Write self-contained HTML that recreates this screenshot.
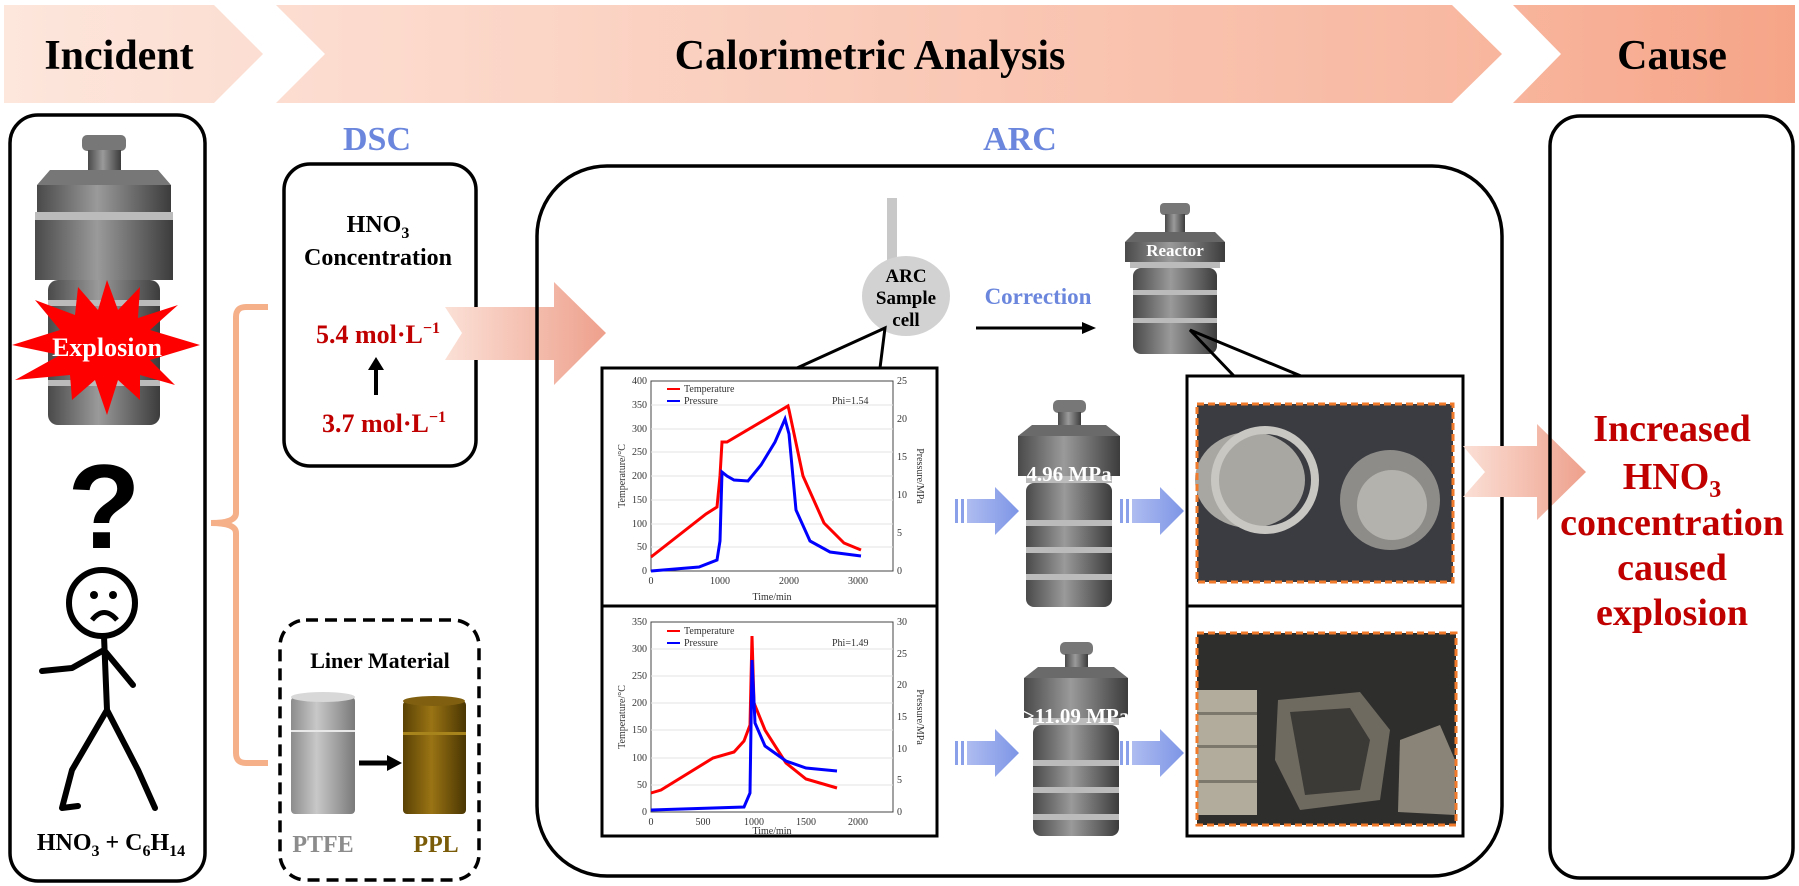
<!DOCTYPE html>
<html><head><meta charset="utf-8"><style>
html,body{margin:0;padding:0;background:#fff;}
svg{display:block;font-family:"Liberation Serif",serif;}
</style></head><body>
<svg width="1799" height="886" viewBox="0 0 1799 886" xmlns="http://www.w3.org/2000/svg">
<defs>
<linearGradient id="ban" gradientUnits="userSpaceOnUse" x1="0" x2="1799" y1="0" y2="0"><stop offset="0" stop-color="#fde6dc"/><stop offset="0.8" stop-color="#f8b9a2"/><stop offset="1" stop-color="#f6a487"/></linearGradient>
<linearGradient id="met" x1="0" x2="1" y1="0" y2="0"><stop offset="0" stop-color="#4a4a4a"/><stop offset="0.45" stop-color="#9a9a9a"/><stop offset="1" stop-color="#3c3c3c"/></linearGradient>
<linearGradient id="ptfe" x1="0" x2="1"><stop offset="0" stop-color="#8c8c8c"/><stop offset="0.4" stop-color="#c8c8c8"/><stop offset="1" stop-color="#7a7a7a"/></linearGradient>
<linearGradient id="ppl" x1="0" x2="1"><stop offset="0" stop-color="#5a4205"/><stop offset="0.45" stop-color="#9a7414"/><stop offset="1" stop-color="#4a3603"/></linearGradient>
<linearGradient id="pa" x1="0" x2="1"><stop offset="0" stop-color="#fbe0d6"/><stop offset="1" stop-color="#eea08c"/></linearGradient>
<linearGradient id="ba" x1="0" x2="1"><stop offset="0" stop-color="#aebcf0"/><stop offset="1" stop-color="#7d95e6"/></linearGradient>
<g id="blue"><rect x="0" y="-12" width="3" height="24" fill="#8aa0e8"/><rect x="6" y="-12" width="3" height="24" fill="#8aa0e8"/><polygon points="12,-12 40,-12 40,-24 64,0 40,24 40,12 12,12" fill="url(#ba)"/></g>
</defs>

<!-- banner -->
<polygon points="4,5 214,5 263,54 214,103 4,103" fill="url(#ban)"/>
<polygon points="276,5 1452,5 1502,54 1452,103 276,103 325,54" fill="url(#ban)"/>
<polygon points="1513,5 1795,5 1795,103 1513,103 1561,54" fill="url(#ban)"/>
<text x="119" y="69" font-size="42" font-weight="bold" text-anchor="middle">Incident</text>
<text x="870" y="69" font-size="42" font-weight="bold" text-anchor="middle">Calorimetric Analysis</text>
<text x="1672" y="69" font-size="42" font-weight="bold" text-anchor="middle">Cause</text>

<!-- left box -->
<rect x="10" y="115" width="195" height="766" rx="28" fill="none" stroke="#000" stroke-width="3.5"/>
<rect x="82" y="135" width="44" height="16" rx="5" fill="#777"/>
<rect x="88" y="150" width="33" height="38" fill="url(#met)"/>
<polygon points="50,170 158,170 171,185 171,212 37,212 37,185" fill="#777"/>
<rect x="37" y="185" width="134" height="27" fill="url(#met)"/>
<rect x="35" y="212" width="138" height="8" fill="#bbb"/>
<rect x="35" y="220" width="138" height="60" fill="url(#met)"/>
<rect x="48" y="280" width="112" height="145" rx="10" fill="url(#met)"/>
<rect x="48" y="300" width="112" height="6" fill="#bbb"/><rect x="48" y="380" width="112" height="6" fill="#bbb"/>
<polygon points="107,280 118,310 140,287 138,318 178,305 150,330 200,345 150,360 175,385 140,375 140,400 118,380 107,415 95,380 72,400 70,375 15,380 60,355 12,345 60,330 35,300 75,315 78,287 98,310" fill="#ff0000"/>
<text x="107" y="356" font-size="26" font-weight="bold" fill="#fff" text-anchor="middle">Explosion</text>
<text x="104" y="548" font-size="120" font-weight="bold" font-family="Liberation Sans,sans-serif" text-anchor="middle">?</text>
<circle cx="102" cy="603" r="33" fill="none" stroke="#000" stroke-width="6"/>
<circle cx="94" cy="595" r="4"/><circle cx="113" cy="595" r="4"/>
<path d="M92 620 Q104 605 117 620" fill="none" stroke="#000" stroke-width="5"/>
<path d="M104 636 L107 710 M104 650 L72 668 L42 671 M104 650 L133 685 M107 710 L72 770 L62 808 L78 806 M107 710 L138 770 L155 808" fill="none" stroke="#000" stroke-width="6" stroke-linecap="round" stroke-linejoin="round"/>
<text x="111" y="850" font-size="24" font-weight="bold" text-anchor="middle">HNO<tspan font-size="16" dy="6">3</tspan><tspan dy="-6"> + C</tspan><tspan font-size="16" dy="6">6</tspan><tspan dy="-6">H</tspan><tspan font-size="16" dy="6">14</tspan></text>

<!-- bracket -->
<path d="M268 307 L246 307 Q236 307 236 317 L236 513 Q236 523 211 523 Q236 523 236 533 L236 753 Q236 763 246 763 L268 763" fill="none" stroke="#f5b08a" stroke-width="6"/>

<!-- DSC -->
<text x="377" y="150" font-size="34" font-weight="bold" fill="#6b87dd" text-anchor="middle">DSC</text>
<rect x="284" y="164" width="192" height="302" rx="26" fill="none" stroke="#000" stroke-width="3.5"/>
<text x="378" y="232" font-size="24" font-weight="bold" text-anchor="middle">HNO<tspan font-size="16" dy="6">3</tspan></text>
<text x="378" y="265" font-size="24" font-weight="bold" text-anchor="middle">Concentration</text>
<text x="378" y="343" font-size="26" font-weight="bold" fill="#c00000" text-anchor="middle">5.4 mol·L<tspan font-size="16" dy="-10">−1</tspan></text>
<line x1="376" y1="395" x2="376" y2="367" stroke="#000" stroke-width="4"/><polygon points="368,370 384,370 376,357"/>
<text x="384" y="432" font-size="26" font-weight="bold" fill="#c00000" text-anchor="middle">3.7 mol·L<tspan font-size="16" dy="-10">−1</tspan></text>

<!-- liner -->
<rect x="280" y="620" width="199" height="260" rx="26" fill="none" stroke="#000" stroke-width="3.5" stroke-dasharray="12,7"/>
<text x="380" y="668" font-size="22" font-weight="bold" text-anchor="middle">Liner Material</text>
<rect x="291" y="697" width="64" height="117" rx="4" fill="url(#ptfe)"/><ellipse cx="323" cy="697" rx="32" ry="5" fill="#d8d8d8"/><rect x="291" y="730" width="64" height="2" fill="#e8e8e8"/>
<rect x="403" y="701" width="63" height="113" rx="4" fill="url(#ppl)"/><ellipse cx="434" cy="701" rx="31" ry="5" fill="#806010"/><rect x="403" y="732" width="63" height="3" fill="#a8841c"/>
<line x1="359" y1="763" x2="390" y2="763" stroke="#000" stroke-width="5"/><polygon points="387,755 402,763 387,771"/>
<text x="323" y="852" font-size="24" font-weight="bold" fill="#8c8c8c" text-anchor="middle">PTFE</text>
<text x="436" y="852" font-size="24" font-weight="bold" fill="#7a5c08" text-anchor="middle">PPL</text>

<polygon points="445,307 554,307 554,282 606,333 554,385 554,360 445,360 462,333" fill="url(#pa)"/>

<!-- ARC -->
<text x="1020" y="150" font-size="34" font-weight="bold" fill="#6b87dd" text-anchor="middle">ARC</text>
<rect x="537" y="166" width="965" height="710" rx="70" fill="none" stroke="#000" stroke-width="3.5"/>
<rect x="887" y="198" width="10" height="62" fill="#c8c8c8"/>
<ellipse cx="906" cy="296" rx="44" ry="40" fill="#d2d2d2"/>
<text x="906" y="282" font-size="19" font-weight="bold" text-anchor="middle">ARC</text>
<text x="906" y="304" font-size="19" font-weight="bold" text-anchor="middle">Sample</text>
<text x="906" y="326" font-size="19" font-weight="bold" text-anchor="middle">cell</text>
<text x="1038" y="304" font-size="23" font-weight="bold" fill="#6b87dd" text-anchor="middle">Correction</text>
<line x1="976" y1="328" x2="1085" y2="328" stroke="#000" stroke-width="3"/><polygon points="1082,322 1096,328 1082,334"/>
<rect x="1160" y="203" width="30" height="12" rx="4" fill="#777"/>
<rect x="1165" y="214" width="20" height="20" fill="url(#met)"/>
<polygon points="1135,232 1215,232 1225,242 1225,262 1125,262 1125,242" fill="#666"/>
<rect x="1125" y="242" width="100" height="20" fill="url(#met)"/>
<rect x="1130" y="262" width="90" height="6" fill="#bbb"/>
<rect x="1133" y="268" width="84" height="86" rx="8" fill="url(#met)"/>
<rect x="1133" y="290" width="84" height="5" fill="#bbb"/><rect x="1133" y="318" width="84" height="5" fill="#bbb"/>
<text x="1175" y="256" font-size="17" font-weight="bold" fill="#fff" text-anchor="middle">Reactor</text>

<polyline points="797,368 885,328 880,368" fill="none" stroke="#000" stroke-width="3"/>
<polyline points="1234,376 1190,330 1301,376" fill="none" stroke="#000" stroke-width="3"/>
<rect x="602" y="368" width="335" height="468" fill="#fff" stroke="#000" stroke-width="3"/>
<line x1="602" y1="606" x2="937" y2="606" stroke="#000" stroke-width="3"/>

<!-- chart 1 -->
<g font-size="10" fill="#333">
<rect x="651" y="381" width="242" height="190" fill="#fff" stroke="#444"/>
<g stroke="#e3e3e3"><line x1="651" x2="893" y1="405" y2="405"/><line x1="651" x2="893" y1="429" y2="429"/><line x1="651" x2="893" y1="452" y2="452"/><line x1="651" x2="893" y1="476" y2="476"/><line x1="651" x2="893" y1="500" y2="500"/><line x1="651" x2="893" y1="524" y2="524"/><line x1="651" x2="893" y1="547" y2="547"/></g>
<g text-anchor="end"><text x="647" y="384">400</text><text x="647" y="408">350</text><text x="647" y="432">300</text><text x="647" y="455">250</text><text x="647" y="479">200</text><text x="647" y="503">150</text><text x="647" y="527">100</text><text x="647" y="550">50</text><text x="647" y="574">0</text></g>
<g><text x="897" y="384">25</text><text x="897" y="422">20</text><text x="897" y="460">15</text><text x="897" y="498">10</text><text x="897" y="536">5</text><text x="897" y="574">0</text></g>
<g text-anchor="middle"><text x="651" y="584">0</text><text x="720" y="584">1000</text><text x="789" y="584">2000</text><text x="858" y="584">3000</text><text x="772" y="600">Time/min</text></g>
<text transform="translate(625,476) rotate(-90)" text-anchor="middle">Temperature/°C</text>
<text transform="translate(917,476) rotate(90)" text-anchor="middle">Pressure/MPa</text>
<line x1="667" x2="680" y1="389" y2="389" stroke="red" stroke-width="2"/><text x="684" y="392">Temperature</text>
<line x1="667" x2="680" y1="401" y2="401" stroke="blue" stroke-width="2"/><text x="684" y="404">Pressure</text>
<text x="832" y="404">Phi=1.54</text>
<polyline fill="none" stroke="red" stroke-width="3" points="651,557 706,514 717,507 720,476 722,442 727,442 788,406 789,410 803,476 824,523 844,543 861,550"/>
<polyline fill="none" stroke="blue" stroke-width="3" points="651,571 699,567 717,560 720,541 722,472 727,476 734,480 748,481 761,465 775,442 785,419 789,434 796,510 810,541 830,552 861,556"/>
</g>
<!-- chart 2 -->
<g font-size="10" fill="#333">
<rect x="651" y="622" width="242" height="190" fill="#fff" stroke="#444"/>
<g stroke="#e3e3e3"><line x1="651" x2="893" y1="649" y2="649"/><line x1="651" x2="893" y1="676" y2="676"/><line x1="651" x2="893" y1="703" y2="703"/><line x1="651" x2="893" y1="730" y2="730"/><line x1="651" x2="893" y1="758" y2="758"/><line x1="651" x2="893" y1="785" y2="785"/></g>
<g text-anchor="end"><text x="647" y="625">350</text><text x="647" y="652">300</text><text x="647" y="679">250</text><text x="647" y="706">200</text><text x="647" y="733">150</text><text x="647" y="761">100</text><text x="647" y="788">50</text><text x="647" y="815">0</text></g>
<g><text x="897" y="625">30</text><text x="897" y="657">25</text><text x="897" y="688">20</text><text x="897" y="720">15</text><text x="897" y="752">10</text><text x="897" y="783">5</text><text x="897" y="815">0</text></g>
<g text-anchor="middle"><text x="651" y="825">0</text><text x="703" y="825">500</text><text x="754" y="825">1000</text><text x="806" y="825">1500</text><text x="858" y="825">2000</text><text x="772" y="834">Time/min</text></g>
<text transform="translate(625,717) rotate(-90)" text-anchor="middle">Temperature/°C</text>
<text transform="translate(917,717) rotate(90)" text-anchor="middle">Pressure/MPa</text>
<line x1="667" x2="680" y1="631" y2="631" stroke="red" stroke-width="2"/><text x="684" y="634">Temperature</text>
<line x1="667" x2="680" y1="643" y2="643" stroke="blue" stroke-width="2"/><text x="684" y="646">Pressure</text>
<text x="832" y="646">Phi=1.49</text>
<polyline fill="none" stroke="red" stroke-width="3" points="651,793 661,790 713,758 734,752 744,741 750,725 752,636 754,703 765,730 786,763 806,779 837,788"/>
<polyline fill="none" stroke="blue" stroke-width="3" points="651,810 744,807 750,793 752,660 755,723 765,746 786,761 806,768 837,771"/>
</g>

<use href="#blue" transform="translate(955,511)"/>
<use href="#blue" transform="translate(1120,511)"/>
<use href="#blue" transform="translate(955,753)"/>
<use href="#blue" transform="translate(1120,753)"/>

<g>
<rect x="1053" y="400" width="33" height="13" rx="5" fill="#777"/>
<rect x="1058" y="412" width="23" height="16" fill="url(#met)"/>
<polygon points="1032,425 1106,425 1120,436 1120,460 1018,460 1018,436" fill="#6a6a6a"/>
<rect x="1018" y="436" width="102" height="40" fill="url(#met)"/>
<rect x="1026" y="476" width="86" height="7" fill="#bbb"/>
<rect x="1026" y="483" width="86" height="124" rx="8" fill="url(#met)"/>
<rect x="1026" y="520" width="86" height="6" fill="#bbb"/><rect x="1026" y="547" width="86" height="6" fill="#bbb"/><rect x="1026" y="574" width="86" height="6" fill="#bbb"/>
<text x="1069" y="481" font-size="21" font-weight="bold" fill="#fff" text-anchor="middle">4.96 MPa</text>
</g>
<g>
<rect x="1060" y="642" width="33" height="13" rx="5" fill="#777"/>
<rect x="1065" y="654" width="23" height="16" fill="url(#met)"/>
<polygon points="1038,667 1114,667 1128,678 1128,702 1024,702 1024,678" fill="#6a6a6a"/>
<rect x="1024" y="678" width="104" height="40" fill="url(#met)"/>
<rect x="1033" y="718" width="86" height="7" fill="#bbb"/>
<rect x="1033" y="725" width="86" height="111" rx="8" fill="url(#met)"/>
<rect x="1033" y="760" width="86" height="6" fill="#bbb"/><rect x="1033" y="787" width="86" height="6" fill="#bbb"/><rect x="1033" y="814" width="86" height="6" fill="#bbb"/>
<text x="1076" y="723" font-size="21" font-weight="bold" fill="#fff" text-anchor="middle">&gt;11.09 MPa</text>
</g>

<rect x="1187" y="376" width="276" height="460" fill="#fff" stroke="#000" stroke-width="3"/>
<line x1="1187" y1="606" x2="1463" y2="606" stroke="#000" stroke-width="3"/>
<rect x="1197" y="404" width="256" height="178" fill="#3a3c42"/>
<ellipse cx="1250" cy="480" rx="55" ry="48" fill="#a9a7a2"/>
<ellipse cx="1265" cy="480" rx="50" ry="50" fill="none" stroke="#c9c7c2" stroke-width="8"/>
<ellipse cx="1390" cy="500" rx="50" ry="50" fill="#8e8c88"/>
<ellipse cx="1392" cy="505" rx="35" ry="35" fill="#b4b2ad"/>
<rect x="1197" y="404" width="256" height="178" fill="none" stroke="#f07a2a" stroke-width="3" stroke-dasharray="7,4"/>
<rect x="1197" y="633" width="259" height="192" fill="#2e2e2c"/>
<rect x="1197" y="690" width="60" height="125" fill="#b2ac9c"/>
<rect x="1197" y="712" width="60" height="3" fill="#7d786c"/><rect x="1197" y="745" width="60" height="3" fill="#7d786c"/><rect x="1197" y="780" width="60" height="3" fill="#7d786c"/>
<polygon points="1278,700 1360,692 1390,730 1380,800 1300,810 1275,760" fill="#6e6a60"/>
<polygon points="1290,712 1350,708 1370,740 1360,790 1305,795" fill="#3c3a36"/>
<polygon points="1400,740 1440,725 1455,760 1455,815 1398,812" fill="#8a8478"/>
<rect x="1197" y="633" width="259" height="192" fill="none" stroke="#f07a2a" stroke-width="3" stroke-dasharray="7,4"/>

<polygon points="1463,446 1537,446 1537,424 1586,472 1537,520 1537,497 1463,497 1485,472" fill="url(#pa)"/>

<rect x="1550" y="116" width="243" height="762" rx="30" fill="none" stroke="#000" stroke-width="3.5"/>
<g font-size="38" font-weight="bold" fill="#c00000" text-anchor="middle">
<text x="1672" y="441">Increased</text>
<text x="1672" y="489">HNO<tspan font-size="24" dy="8">3</tspan></text>
<text x="1672" y="535">concentration</text>
<text x="1672" y="580">caused</text>
<text x="1672" y="625">explosion</text>
</g>
</svg>
</body></html>
